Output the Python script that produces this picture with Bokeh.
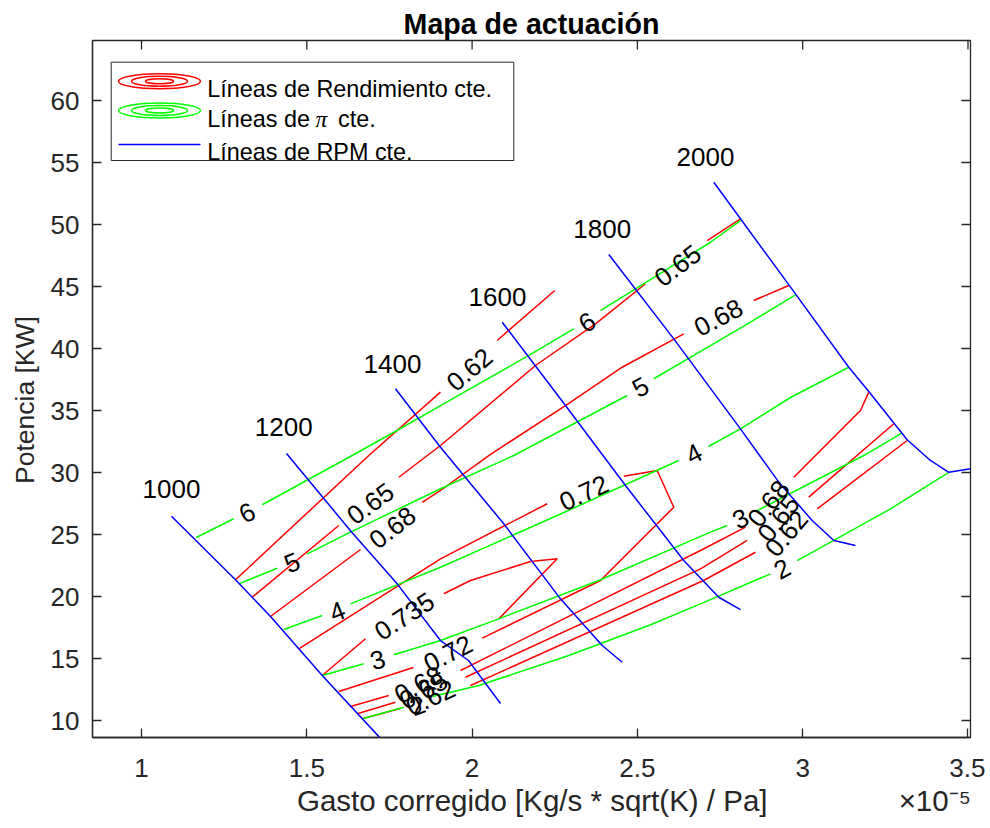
import math
from bokeh.plotting import figure
from bokeh.models import Range1d, Label, FixedTicker, NumeralTickFormatter
from bokeh.embed import file_html
from bokeh.resources import INLINE

nan = float("nan")
FONT = "Liberation Sans"
DARK = "#262626"

# ---------------- data ----------------
x_ticks = [1, 1.5, 2, 2.5, 3, 3.5]
y_ticks = [10, 15, 20, 25, 30, 35, 40, 45, 50, 55, 60]

# constant RPM lines
rpm_labels = ["1000", "1200", "1400", "1600", "1800", "2000"]
rpm_label_x = [1.0907, 1.4304, 1.7592, 2.0768, 2.3935, 2.706]
rpm_label_y = [28.71, 33.65, 38.77, 44.14, 49.65, 55.48]
rpm_x = [
    [1.0907, 1.2843, 1.3902, 1.4758, 1.5466, 1.7215],
    [1.4386, 1.6373, 1.7734, 1.9044, 1.9891, 2.0859],
    [1.7683, 1.9044, 2.0959, 2.2673, 2.3935, 2.4540],
    [2.0911, 2.2825, 2.4640, 2.6403, 2.7462, 2.8118],
    [2.4135, 2.6101, 2.8118, 2.9277, 3.0287, 3.0941, 3.1597],
    [2.7311, 2.8118, 2.9782, 3.1394, 3.1999, 3.3160, 3.3865, 3.4419, 3.5075, 3.52],
]
rpm_y = [
    [26.48, 21.35, 18.39, 15.78, 13.63, 8.60],
    [31.53, 25.14, 21.02, 16.45, 14.84, 11.37],
    [36.75, 32.04, 25.86, 19.81, 16.05, 14.70],
    [42.12, 35.40, 28.95, 22.90, 19.94, 18.95],
    [47.58, 40.78, 33.52, 29.22, 26.13, 24.52, 24.11],
    [53.41, 50.46, 44.41, 38.49, 36.53, 32.64, 30.97, 30.02, 30.30, 30.35],
]

# constant pressure-ratio lines (gaps where the inline labels sit)
pi_x = [
    [1.1655, 1.2789, nan, 1.3651, 1.6373, 1.7783, 1.9044, 2.1715, 2.3076, nan, 2.3884, 2.7211, 2.8118],
    [1.2943, 1.4105, nan, 1.5012, 1.6322, 1.9044, 2.1261, 2.4691, nan, 2.5496, 2.7211, 2.8421, 2.9782],
    [1.4304, 1.5466, nan, 1.6322, 1.9044, 2.2574, 2.6252, nan, 2.7151, 2.8118, 2.9631, 3.1394],
    [1.5466, 1.6724, nan, 1.7632, 1.9044, 2.0808, 2.3832, 2.7211, 2.7716, nan, 2.8572, 3.1848, 3.3009],
    [1.6676, 1.7934, nan, 1.8802, 2.0203, 2.2925, 2.5345, 2.6909, 2.9026, nan, 2.9834, 3.0941, 3.2655, 3.4419],
]
pi_y = [
    [24.76, 26.27, nan, 27.40, 31.37, 33.47, 35.40, 39.44, 41.59, nan, 43.06, 48.57, 50.32],
    [21.02, 22.28, nan, 23.44, 25.19, 28.69, 31.37, 36.21, nan, 37.56, 40.24, 42.12, 44.33],
    [17.34, 18.47, nan, 19.41, 22.36, 26.53, 30.97, nan, 32.10, 33.52, 36.05, 38.49],
    [13.63, 14.57, nan, 15.30, 16.45, 18.20, 21.29, 25.19, 25.73, nan, 26.85, 31.37, 33.20],
    [10.14, 11.07, nan, 11.94, 12.82, 15.24, 17.66, 19.41, 21.83, nan, 22.90, 24.52, 27.07, 30.02],
]
pi_labels = ["6", "5", "4", "3", "2", "6", "5", "4", "3", "2"]
pi_label_x = [1.3197, 1.4558, 1.5919, 1.7148, 1.8348, 2.3482, 2.5094, 2.6706, 2.8118, 2.9380]
pi_label_y = [26.75, 22.72, 18.79, 14.90, 11.21, 42.12, 36.88, 31.51, 26.27, 22.23]
pi_label_angle = [27, 22, 21, 16, 20, 32, 29, 27, 26, 28]

# constant efficiency lines
eff_x = [
    [1.2843, 1.6876, 1.9044, nan, 2.0759, 2.2501],
    [1.3348, 1.5968, nan, 1.7783, 1.9044, 2.1918, 2.3733, 2.5245, nan, 2.7111, 2.8118],
    [1.3902, 1.6624, nan, 1.8491, 1.9044, 2.0505, 2.2825, 2.4540, 2.6403, nan, 2.8521, 2.9580],
    [1.4758, 1.9044, 2.2272, nan, 2.4589, 2.5599, 2.6101, 2.3884, 2.0306, nan, 1.8224, 1.5968],
    [1.5466, 1.6776, nan, 1.9144, 1.9951, 2.1766, 2.2574, 2.0808],
    [1.6322, 1.7480, nan, 1.9649, 2.6909, 2.8270, nan, 2.9731, 3.1748, 3.1999],
    [1.6525, 1.7683, nan, 1.9800, 2.6909, 2.8321, nan, 3.0184, 3.2755],
    [1.6676, 1.7834, nan, 1.9951, 2.7000, 2.8573, nan, 3.0439, 3.3161],
]
eff_y = [
    [21.35, 31.37, 36.48, nan, 40.65, 44.68],
    [19.94, 25.73, nan, 29.62, 32.18, 38.63, 41.99, 45.22, nan, 48.71, 50.46],
    [18.39, 23.79, nan, 27.60, 28.55, 31.37, 35.40, 38.49, 41.18, nan, 43.87, 45.08],
    [15.78, 23.04, 27.48, nan, 29.70, 30.16, 27.20, 21.29, 16.64, nan, 14.27, 12.34],
    [13.63, 16.59, nan, 20.22, 21.29, 22.82, 23.04, 18.20],
    [11.13, 12.02, nan, 14.03, 23.71, 25.59, nan, 29.62, 35.00, 36.48],
    [10.54, 11.48, nan, 13.49, 22.23, 24.52, nan, 28.01, 33.93],
    [10.14, 10.97, nan, 12.82, 21.29, 23.57, nan, 27.07, 32.58],
]
eff_labels = ["0.62", "0.65", "0.68", "0.735", "0.72", "0.72", "0.65", "0.68",
              "0.68", "0.65", "0.62", "0.68", "0.65", "0.62"]
eff_label_x = [1.9921, 1.6927, 1.7592, 1.7955, 2.3379, 1.9271, 2.6222, 2.7453,
               1.8379, 1.8530, 1.8742, 2.8966, 2.9268, 2.9510]
eff_label_y = [38.31, 27.50, 25.56, 18.41, 28.36, 15.40, 46.69, 42.50,
               12.90, 12.42, 11.85, 27.50, 26.29, 25.08]
eff_label_angle = [40, 36, 38, 33, 25, 27, 37, 28, 28, 28, 25, 52, 52, 50]

title_text = "Mapa de actuación"
xlabel_text = "Gasto corregido [Kg/s * sqrt(K) / Pa]"
ylabel_text = "Potencia [KW]"
xexp_text = "\u00d710\u207b\u2075"

# ---------------- figure ----------------
X0, X1 = 0.8518, 3.5076
Y0, Y1 = 8.63, 64.84
FL, FT, FR, FB = 92, 40, 970, 737   # frame edges in page pixels
W, H = 985, 828
FW, FH = FR - FL, FB - FT

NB = "\u00a0"
p = figure(width=W, height=H, x_range=Range1d(X0, X1), y_range=Range1d(Y0, Y1),
           output_backend="svg", toolbar_location=None,
           min_border_left=FL, min_border_top=FT,
           min_border_right=W - FR, min_border_bottom=H - FB,
           title=title_text)
p.background_fill_color = "white"
p.border_fill_color = "white"
p.grid.visible = False
p.outline_line_color = DARK
p.outline_line_width = 1.3

p.title.align = "center"
p.title.text_font = FONT
p.title.text_font_size = "28.6px"
p.title.text_font_style = "bold"
p.title.text_color = "black"
p.title.standoff = 2


def px2x(px):
    return X0 + (px - FL) * (X1 - X0) / FW


def py2y(py):
    return Y1 - (py - FT) * (Y1 - Y0) / FH


for ax, ticks in ((p.xaxis[0], x_ticks), (p.yaxis[0], y_ticks)):
    ax.ticker = FixedTicker(ticks=ticks)
    ax.major_tick_in = 9
    ax.major_tick_out = 0
    ax.minor_tick_in = 0
    ax.minor_tick_out = 0
    ax.axis_line_color = DARK
    ax.axis_line_width = 1.3
    ax.major_tick_line_color = DARK
    ax.major_tick_line_width = 1.3
    ax.major_label_text_font = FONT
    ax.major_label_text_font_size = "26px"
    ax.major_label_text_color = DARK
    ax.axis_label_text_font = FONT
    ax.axis_label_text_font_style = "normal"
    ax.axis_label_text_color = DARK
p.xaxis[0].formatter = NumeralTickFormatter(format="0.[0]")
p.xaxis[0].major_label_standoff = 21
p.yaxis[0].major_label_standoff = 13
p.xaxis[0].axis_label = NB * 25 + xlabel_text + NB * 16 + xexp_text
p.xaxis[0].axis_label_text_font_size = "29.5px"
p.xaxis[0].axis_label_standoff = 4
p.yaxis[0].axis_label = ylabel_text + NB * 3
p.yaxis[0].axis_label_text_font_size = "26.5px"
p.yaxis[0].axis_label_standoff = 8

# mirrored ticks on the top and right edges of the box
tick_dy = 9 * (Y1 - Y0) / FH
tick_dx = 9 * (X1 - X0) / FW
p.segment(x0=x_ticks, x1=x_ticks, y0=[Y1] * len(x_ticks), y1=[Y1 - tick_dy] * len(x_ticks),
          line_color=DARK, line_width=1.3)
p.segment(x0=[X1] * len(y_ticks), x1=[X1 - tick_dx] * len(y_ticks), y0=y_ticks, y1=y_ticks,
          line_color=DARK, line_width=1.3)

LW = 1.5
for xs, ys in zip(eff_x, eff_y):
    p.line(xs, ys, line_color="#ff0000", line_width=LW)
for xs, ys in zip(pi_x, pi_y):
    p.line(xs, ys, line_color="#00ff00", line_width=LW)
for xs, ys in zip(rpm_x, rpm_y):
    p.line(xs, ys, line_color="#0000ff", line_width=LW)


def add_text(t, x, y, ang=0, size="26px", align="center", base="middle", style="normal",
             color="black", font=FONT):
    p.add_layout(Label(x=x, y=y, text=t, angle=math.radians(ang), text_align=align,
                       text_baseline=base, text_font=font, text_font_size=size,
                       text_font_style=style, text_color=color))


for t, x, y in zip(rpm_labels, rpm_label_x, rpm_label_y):
    add_text(t, x, y)
for t, x, y, a in zip(pi_labels, pi_label_x, pi_label_y, pi_label_angle):
    add_text(t, x, y, a)
for t, x, y, a in zip(eff_labels, eff_label_x, eff_label_y, eff_label_angle):
    add_text(t, x, y, a)

# ---------------- legend (drawn by hand) ----------------
lx0, lx1, ly0, ly1 = px2x(110.7), px2x(513.3), py2y(61.7), py2y(160)
p.quad(left=[lx0], right=[lx1], top=[ly0], bottom=[ly1], fill_color="white",
       line_color=DARK, line_width=1)
icx = px2x(159)
for row, col in ((80.7, "#ff0000"), (110, "#00ff00")):
    for w, h in ((82, 15), (56, 10), (28, 5)):
        p.ellipse(x=[icx], y=[py2y(row)], width=w, height=h, width_units="screen",
                  height_units="screen", fill_alpha=0, line_color=col, line_width=1.5)
p.line([px2x(118), px2x(200)], [py2y(144), py2y(144)], line_color="#0000ff", line_width=1.5)
LS = "23.4px"
add_text("Líneas de Rendimiento cte.", px2x(206.7), py2y(88.3), size=LS, align="left", base="alphabetic")
add_text("Líneas de", px2x(206.7), py2y(118.3), size=LS, align="left", base="alphabetic")
add_text("π", px2x(315), py2y(118.3), size=LS, align="left", base="alphabetic",
         style="italic", font="Liberation Serif")
add_text("cte.", px2x(337.5), py2y(118.3), size=LS, align="left", base="alphabetic")
add_text("Líneas de RPM cte.", px2x(206.7), py2y(151.5), size=LS, align="left", base="alphabetic")

open("out.html", "w").write(file_html(p, INLINE))
